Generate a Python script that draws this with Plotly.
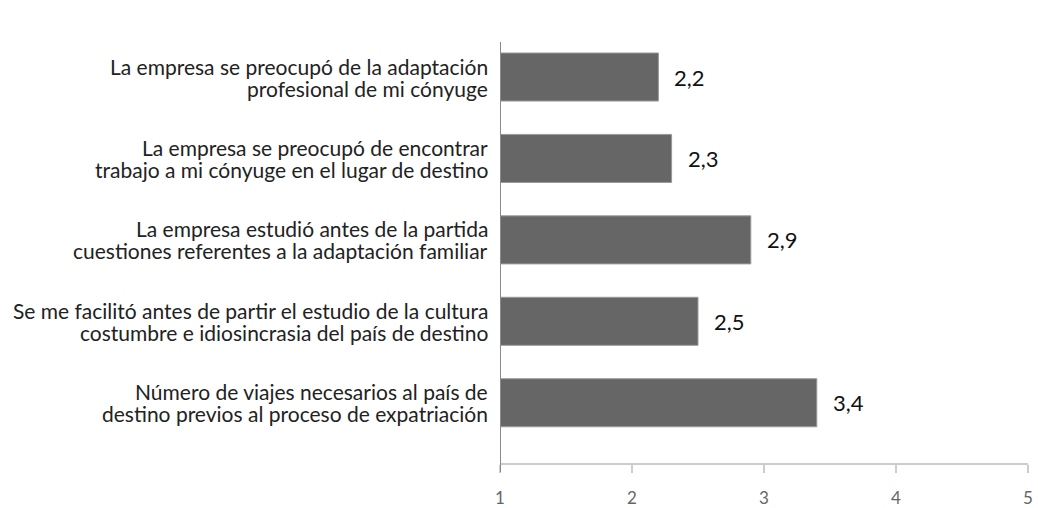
import plotly.graph_objects as go

categories = [
    "La empresa se preocupó de la adaptación<br>profesional de mi cónyuge",
    "La empresa se preocupó de encontrar<br>trabajo a mi cónyuge en el lugar de destino",
    "La empresa estudió antes de la partida<br>cuestiones referentes a la adaptación familiar",
    "Se me facilitó antes de partir el estudio de la cultura<br>costumbre e idiosincrasia del país de destino",
    "Número de viajes necesarios al país de<br>destino previos al proceso de expatriación",
]
values = [2.2, 2.3, 2.9, 2.5, 3.4]
value_labels = ["2,2", "2,3", "2,9", "2,5", "3,4"]
x_ticks = [1, 2, 3, 4, 5]

base = 1
pos = list(range(len(categories)))
FONT = "Lato, Liberation Sans, sans-serif"
LINE_GAP = 22  # px between the two label lines

fig = go.Figure()
fig.add_trace(go.Bar(
    y=pos,
    x=[v - base for v in values],
    base=base,
    orientation="h",
    width=0.59,
    marker=dict(color="#666666", line=dict(color="#9a9a9a", width=1)),
    hoverinfo="skip",
))

annotations = []
for p, v, t in zip(pos, values, value_labels):
    annotations.append(dict(
        x=v, y=p, xref="x", yref="y", text=t, showarrow=False,
        xanchor="left", yanchor="middle", xshift=14,
        font=dict(family=FONT, size=22, color="#111111"),
    ))
for p, cat in zip(pos, categories):
    lines = cat.split("<br>")
    n = len(lines)
    for k, line in enumerate(lines):
        annotations.append(dict(
            x=0, y=p, xref="paper", yref="y", text=line, showarrow=False,
            xanchor="right", yanchor="middle", xshift=-10,
            yshift=((n - 1) / 2 - k) * LINE_GAP,
            font=dict(family=FONT, size=21, color="#222222"),
        ))

shapes = [
    dict(type="line", xref="x", yref="paper", x0=1, x1=1, y0=-9/421, y1=1,
         line=dict(color="#8a8a8a", width=2)),
    dict(type="line", xref="x", yref="paper", x0=1 - 8/132, x1=1, y0=1, y1=1,
         line=dict(color="#8a8a8a", width=1.5)),
    dict(type="line", xref="x", yref="paper", x0=1 - 7/132, x1=1, y0=0, y1=0,
         line=dict(color="#cccccc", width=2)),
]

fig.update_layout(
    width=1038, height=508,
    margin=dict(l=500, r=10, t=42, b=45),
    paper_bgcolor="white", plot_bgcolor="white",
    showlegend=False,
    annotations=annotations,
    shapes=shapes,
    font=dict(family=FONT, color="#222222"),
    xaxis=dict(
        range=[1, 5], tickvals=x_ticks, ticktext=[str(t) for t in x_ticks],
        showgrid=False, zeroline=False, showline=True, linecolor="#cccccc", linewidth=2,
        ticks="outside", ticklen=8, tickcolor="#cccccc", tickwidth=2,
        tickfont=dict(family=FONT, size=17, color="#666666"), ticklabelstandoff=11,
        automargin=False, ticklabeloverflow="allow",
    ),
    yaxis=dict(
        range=[4.74, -0.43], tickvals=pos, ticktext=[""] * len(pos),
        showgrid=False, zeroline=False, showline=False, ticks="",
        automargin=False,
    ),
)

fig.write_html(
    "out.html",
    config={"displayModeBar": False},
    post_script="document.body.style.margin='0';document.body.style.overflow='hidden';",
)
